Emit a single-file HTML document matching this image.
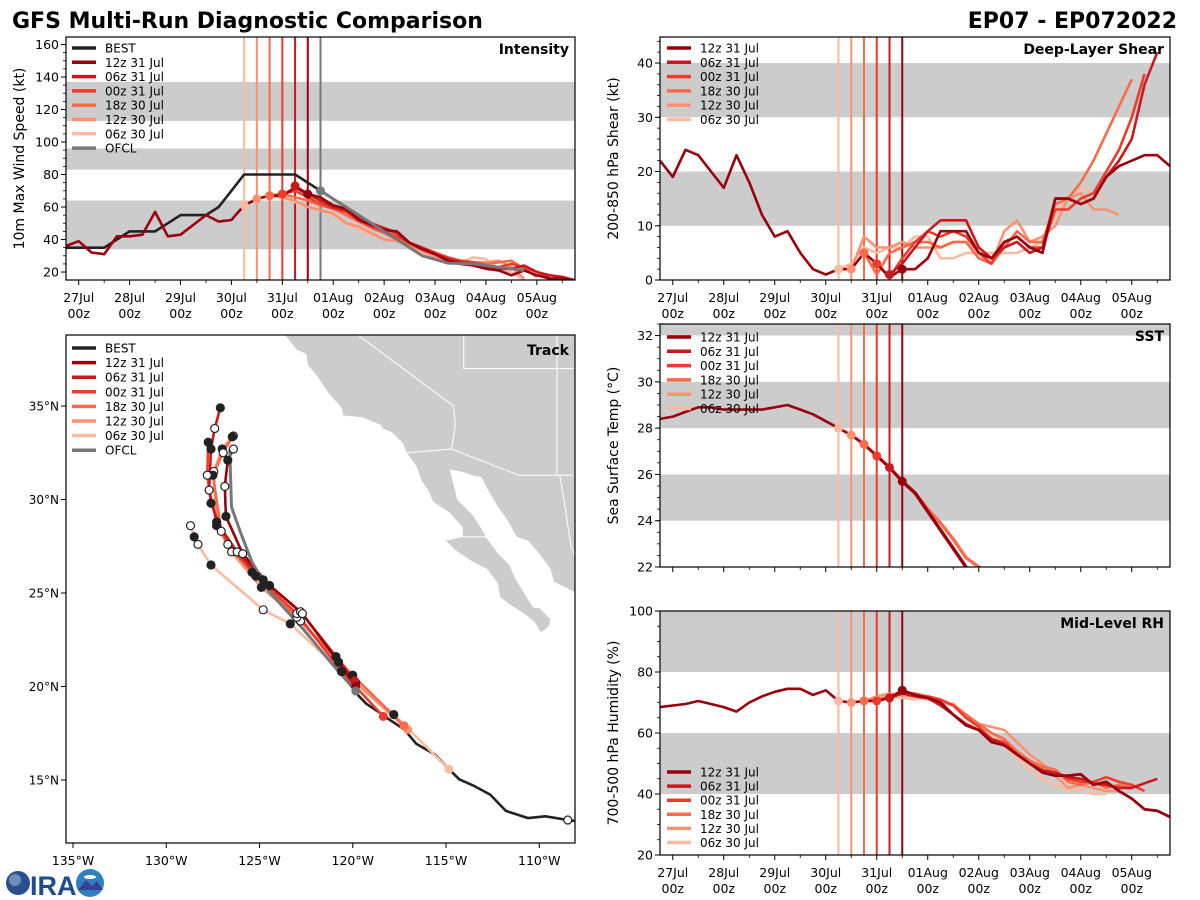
<!DOCTYPE html>
<html><head><meta charset="utf-8">
<style>
html,body{margin:0;padding:0;background:#fff;}
svg{display:block;font-family:"DejaVu Sans","Liberation Sans",sans-serif;}
</style></head>
<body>
<svg id="root" width="1200" height="900" viewBox="0 0 1200 900" xmlns="http://www.w3.org/2000/svg">
<text x="12" y="28" font-size="22" font-weight="bold">GFS Multi-Run Diagnostic Comparison</text>
<text x="1177" y="28" font-size="22" font-weight="bold" text-anchor="end">EP07 - EP072022</text>
<g>
<circle cx="18" cy="883" r="12" fill="#2a4f8f"/>
<circle cx="15" cy="880" r="6" fill="#6b8fb8"/>
<text x="30" y="895" font-size="27" font-weight="bold" fill="#1f4b8f" font-family="Liberation Sans, sans-serif">IRA</text>
<circle cx="90" cy="883" r="14" fill="#2f7fc4"/>
<path d="M78 890 L86 880 L92 886 L97 881 L103 890 Z" fill="#3b3f8f"/>
<ellipse cx="90" cy="877" rx="6" ry="2" fill="#fff"/>
</g>
</svg>
<script>
// ===== DATA =====
const dayLabels = ["27Jul","28Jul","29Jul","30Jul","31Jul","01Aug","02Aug","03Aug","04Aug","05Aug"];
const runLabels = ["12z 31 Jul","06z 31 Jul","00z 31 Jul","18z 30 Jul","12z 30 Jul","06z 30 Jul"];
const runStarts = [4.5,4.25,4.0,3.75,3.5,3.25];
const ofclStart = 4.75;
const histStart = -0.25;

const bestInt = [35,35,35,35,40,45,45,45,50,55,55,55,60,70,80,80,80,80,80,75,70];
const histInt = [36,39,32,31,42,42,43,57,42,43,49,55,51,52,61,65,67,67,72,68];
const run12z31Int = [68,66,61,59,52,49,46,45,38,34,31,27,25,24,22,21,18,21,18,16,16,15];
const run06z31Int = [73,68,64,60,58,53,50,47,44,38,35,31,28,26,25,23,22,22,24,20,18,17,15];
const run00z31Int = [68,70,66,62,59,57,52,48,45,42,38,35,32,29,27,26,24,23,25,23,20,17];
const run18z30Int = [67,68,66,64,61,59,55,51,47,44,40,37,34,31,28,27,26,25,26,27,22,17];
const run12z30Int = [65,67,66,64,60,58,56,50,48,44,40,39,36,33,29,27,27,26,26,27,23,16];
const run06z30Int = [61,65,67,66,63,60,58,55,50,46,43,40,40,37,32,28,27,26,29,28,22,20,15];
const ofclTimes = [4.75,5.25,5.75,6.25,6.75,7.25,7.75,8.25,8.75];
const ofclInt = [70,60,50,40,30,25.5,25,23,21];

const histShear = [22,19,24,23,20,17,23,18,12,8,9,5,2,1,2,2,5,3,0.5,2];
const run12z31Shear = [2,2,4,9,9,9,5,4,7,8,6,5,15,15,14,15,19,21,22,23,23,21];
const run06z31Shear = [1,3,6,9,11,11,11,6,4,6,7,5,6,15,15,14,15,19,22,26,36,42];
const run00z31Shear = [3,0.5,4,7,9,8,9,8,5,3,7,8,6,6,13,13,15,16,20,24,30,38];
const run18z30Shear = [5,1,5,6,7,7,6,7,7,4,3,6,9,7,7,14,15,18,22,27,32,37];
const run12z30Shear = [2,8,6,6,7,6,6,6,7,7,4,3,9,11,7,8,10,15,16,13,13,12];
const run06z30Shear = [2,3,6,5,6,6,8,8,4,4,5,5,5,5,5,6,7,12,15,17,16,15];

const histSst = [28.4,28.5,28.7,28.9,28.9,28.8,28.8,28.8,28.8,28.9,29.0,28.8,28.6,28.3,28.0,27.7,27.3,26.8,26.3,25.7];
const run12z31Sst = [25.7,25.2,24.4,23.6,22.8,22.0,21.2];
const run06z31Sst = [26.3,25.7,25.2,24.4,23.6,22.8,22.0,21.2];
const run00z31Sst = [26.8,26.3,25.7,25.2,24.4,23.6,22.8,22.0,21.2];
const run18z30Sst = [27.3,26.8,26.3,25.7,25.2,24.5,23.9,23.2,22.4,22.0,21.7];
const run12z30Sst = [27.7,27.3,26.8,26.3,25.7,25.2,24.5,23.9,23.2,22.4,22.0,21.7];
const run06z30Sst = [28.0,27.7,27.3,26.8,26.3,25.7,25.2,24.5,23.9,23.2,22.4,22.0,21.7];

const histRh = [68.5,69,69.5,70.5,69.5,68.5,67,70,72,73.5,74.5,74.5,72.5,74,70.5,70,70.5,70.5,71.5,74];
const run12z31Rh = [74,72.5,71.5,70,66,62.5,61,57,56,53,50,47,46,46,46.5,43,44,41,38.5,35,34.5,32.5];
const run06z31Rh = [71.5,73,72,71.5,69,66,63,61,58,56,53,50,47.5,47,45.5,45,43.5,43,42,42,43.5,45];
const run00z31Rh = [70.5,71.5,73,72,72,71,69,65,62,58,57,53,50,48,47,45,44,44,45.5,44,43,41];
const run18z30Rh = [70.5,71,72,73,73,72,71,69,66,63,60,58,54,51,49,48,44,43,44,42,43,42];
const run12z30Rh = [70,70.5,72,73,72.5,72,71,70,69.5,66,63,62,61,57,53,50,46,42,43,42,41,41];
const run06z30Rh = [70.5,70,70.5,71,72,71.5,71,72,70,69,65,62,60,56,52,48,45,43,41.5,41.5,40,40];

const bestLon = [-119.74,-119.28,-118.54,-117.99,-117.25,-116.6,-115.58,-114.84,-114.29,-113.55,-112.63,-111.79,-110.59,-109.67,-108.47,-108.0];
const bestLat = [19.56,19.08,18.59,18.2,17.72,16.94,16.36,15.58,15.04,14.71,14.22,13.35,12.96,13.06,12.86,12.8];
const ofclLon = [-119.84,-121.1,-122.6,-124.5,-125.4,-126.0,-126.5,-126.6];
const ofclLat = [19.76,21.2,23.0,25.1,26.65,28.2,29.6,32.7];
const trk12z31Lon = [-119.84,-120.76,-122.7,-124.46,-125.9,-126.8,-126.86,-126.7,-126.4];
const trk12z31Lat = [20.0,21.3,23.9,25.4,27.1,29.1,30.7,32.1,32.7];
const trk06z31Lon = [-119.9,-120.9,-122.8,-124.8,-126.2,-127.3,-127.7,-127.6,-127.4,-127.1];
const trk06z31Lat = [20.3,21.6,24.0,25.7,27.2,28.8,30.5,32.7,33.8,34.9];
const trk00z31Lon = [-118.36,-120.6,-123.0,-125.2,-126.7,-127.6,-127.8,-127.75];
const trk00z31Lat = [18.4,20.8,23.9,25.9,27.6,29.8,31.3,33.06];
const trk18z30Lon = [-117.25,-120.0,-123.0,-125.4,-127.05,-127.5,-126.95,-126.46];
const trk18z30Lat = [17.9,20.6,23.7,26.1,28.3,31.3,32.5,33.35];
const trk12z30Lon = [-117.06,-119.84,-122.8,-124.9,-126.5,-127.3,-127.45,-127.0,-126.4];
const trk12z30Lat = [17.7,20.2,23.5,25.3,27.2,28.6,31.5,32.7,33.4];
const trk06z30Lon = [-114.84,-117.8,-120.6,-123.35,-124.8,-127.6,-128.3,-128.5,-128.7];
const trk06z30Lat = [15.58,18.5,20.8,23.35,24.1,26.5,27.6,28.0,28.6];

const landLon = [-123.7,-123.0,-122.5,-122.4,-121.9,-121.3,-120.6,-120.5,-119.5,-118.5,-118.4,-117.9,-117.3,-117.1,-116.6,-116.3,-115.9,-115.7,-114.8,-114.1,-114.1,-115.0,-114.5,-113.6,-112.8,-112.2,-112.1,-111.6,-110.8,-110.3,-109.9,-109.5,-109.4,-110.0,-110.3,-110.7,-111.3,-111.6,-112.2,-112.8,-113.2,-113.6,-114.4,-114.6,-114.8,-114.2,-113.6,-113.1,-112.8,-112.2,-111.7,-111.2,-110.6,-110.0,-109.4,-109.2,-108.6,-108.0,-108.0,-123.8];
const landLat = [38.9,38.0,37.8,37.2,36.6,35.7,34.9,34.5,34.4,34.0,33.8,33.6,33.0,32.5,31.8,31.0,30.4,29.9,29.3,28.5,28.0,27.8,27.3,26.7,26.3,25.5,24.8,24.4,23.9,23.5,22.9,23.2,23.6,24.2,24.2,24.8,25.8,26.5,27.1,27.9,28.6,29.2,30.0,30.8,31.6,31.5,31.3,31.2,30.6,29.6,28.9,28.0,27.8,27.1,26.3,25.6,25.3,25.0,39.5,39.5];
</script>
<script>
const NS = "http://www.w3.org/2000/svg";
const root = document.getElementById('root');
const runColors = ["#99000d","#cb181d","#ef3b2c","#fb6a4a","#fc9272","#fcbba1"];
function mk(tag, attrs, parent){const e=document.createElementNS(NS,tag);for(const k in attrs)e.setAttribute(k,attrs[k]);(parent||root).appendChild(e);return e;}
function txt(s, attrs, parent){const e=mk('text',attrs,parent);e.textContent=s;return e;}

const panels = {
  int:{x0:66,x1:575,y0:37,y1:280,ymin:15.1,ymax:164.6,name:'intensity'},
  shr:{x0:660,x1:1170,y0:37,y1:280,ymin:0,ymax:44.8,name:'shear'},
  sst:{x0:660,x1:1170,y0:324,y1:567,ymin:22,ymax:32.5,name:'sst'},
  rh:{x0:660,x1:1170,y0:611,y1:855,ymin:20,ymax:100,name:'rh'}
};
function xT(p,t){return p.x0+(t+0.25)/10*(p.x1-p.x0);}
function yV(p,v){return p.y1-(v-p.ymin)/(p.ymax-p.ymin)*(p.y1-p.y0);}

function setupPanel(p, bands, yticks, yminor, ylabel, title, xlabels){
  const g=mk('g',{});
  
  
  const cp=mk('clipPath',{id:'clip-'+p.name},g);
  mk('rect',{x:p.x0,y:p.y0,width:p.x1-p.x0,height:p.y1-p.y0},cp);
  const plot=mk('g',{'clip-path':'url(#clip-'+p.name+')'},g);
  bands.forEach(b=>{
    const r=mk('rect',{x:p.x0,y:yV(p,b[1]),width:p.x1-p.x0,height:yV(p,b[0])-yV(p,b[1]),fill:'#cccccc'},plot);
    
    
  });
  p.plot=plot; p.g=g;
  yticks.forEach(v=>{const y=yV(p,v);mk('line',{x1:p.x0-5,x2:p.x0,y1:y,y2:y,stroke:'#000','stroke-width':1},g);
    const t=txt(String(v),{x:p.x0-7,y:y+4.5,'font-size':12.5,'text-anchor':'end'},g);
    
    });
  for(let v=Math.ceil(p.ymin/yminor)*yminor; v<=p.ymax; v+=yminor){const y=yV(p,v);mk('line',{x1:p.x0-3,x2:p.x0,y1:y,y2:y,stroke:'#000','stroke-width':0.8},g);}
  for(let i=0;i<dayLabels.length;i++){const x=xT(p,i);mk('line',{x1:x,x2:x,y1:p.y1,y2:p.y1+5,stroke:'#000','stroke-width':1},g);
    if(xlabels){
      const t1=txt(dayLabels[i],{x:x,y:p.y1+22,'font-size':12.5,'text-anchor':'middle'},g);
      
      
      txt('00z',{x:x,y:p.y1+38,'font-size':12.5,'text-anchor':'middle'},g);
    }}
  for(let t=-0.0; t<=9.75; t+=0.5){if(t%1===0)continue;const x=xT(p,t);mk('line',{x1:x,x2:x,y1:p.y1,y2:p.y1+3,stroke:'#000','stroke-width':0.8},g);}
  const yl=txt(ylabel,{x:0,y:0,'font-size':14,'text-anchor':'middle',transform:'translate('+(p.x0===66?24:618)+','+((p.y0+p.y1)/2)+') rotate(-90)'},g);
  
  
  const tt=txt(title,{x:p.x1-6,y:p.y0+17,'font-size':14,'font-weight':'bold','text-anchor':'end'},g);
  
  
}
function frame(p){mk('rect',{x:p.x0,y:p.y0,width:p.x1-p.x0,height:p.y1-p.y0,fill:'none',stroke:'#000','stroke-width':1.2},p.g);}

function series(p, t0, vals, color, name, w, dt){
  dt=dt||0.25;
  const pts=vals.map((v,i)=>xT(p,t0+i*dt).toFixed(1)+','+yV(p,v).toFixed(1)).join(' ');
  const l=mk('polyline',{points:pts,fill:'none',stroke:color,'stroke-width':w||2.6,'stroke-linejoin':'round'},p.plot);
  
  
}
function seriesT(p, ts, vals, color, name, w){
  const pts=vals.map((v,i)=>xT(p,ts[i]).toFixed(1)+','+yV(p,v).toFixed(1)).join(' ');
  const l=mk('polyline',{points:pts,fill:'none',stroke:color,'stroke-width':w||2.6,'stroke-linejoin':'round'},p.plot);
  
  
}
function dot(p,t,v,color){const c=mk('circle',{cx:xT(p,t),cy:yV(p,v),r:4.5,fill:color},p.plot);
  
  }
function vlines(p, withOfcl){
  runStarts.slice().reverse().forEach((t,i)=>{const c=runColors[5-i];const x=xT(p,t);
    const l=mk('line',{x1:x,x2:x,y1:p.y0,y2:p.y1,stroke:c,'stroke-width':2},p.plot);
    
    });
  if(withOfcl){const x=xT(p,ofclStart);const l=mk('line',{x1:x,x2:x,y1:p.y0,y2:p.y1,stroke:'#777','stroke-width':2},p.plot);
    
    }
}
function legend(g, x, y, step, entries){
  const lg=mk('g',{},g);
  
  
  entries.forEach((e,i)=>{const yy=y+i*step;
    mk('line',{x1:x,x2:x+24,y1:yy,y2:yy,stroke:e[1],'stroke-width':3.5},lg);
    const t=txt(e[0],{x:x+33,y:yy+4.5,'font-size':12},lg);
    
    });
}
const runEntries = runLabels.map((l,i)=>[l,runColors[i]]);

{const p=panels.int;
setupPanel(p,[[34,64],[83,96],[113,137]],[20,40,60,80,100,120,140,160],5,'10m Max Wind Speed (kt)','Intensity',true);
vlines(p,true);
series(p,histStart,bestInt,'#222','best-intensity-line');
const runs=[run12z31Int,run06z31Int,run00z31Int,run18z30Int,run12z30Int,run06z30Int];
for(let i=5;i>=0;i--){series(p,runStarts[i],runs[i],runColors[i],'run-intensity-line');}
series(p,histStart,histInt,runColors[0],'gfs-history-intensity-line');
seriesT(p,ofclTimes,ofclInt,'#777','ofcl-intensity-line',3);
for(let i=5;i>=0;i--)dot(p,runStarts[i],runs[i][0],runColors[i]);
dot(p,ofclTimes[0],ofclInt[0],'#777');
frame(p);
legend(p.g,72,48,14.3,[['BEST','#222']].concat(runEntries,[['OFCL','#777']]));}

{const p=panels.shr;
setupPanel(p,[[10,20],[30,40]],[0,10,20,30,40],2,'200-850 hPa Shear (kt)','Deep-Layer Shear',true);
vlines(p,false);
const runs=[run12z31Shear,run06z31Shear,run00z31Shear,run18z30Shear,run12z30Shear,run06z30Shear];
for(let i=5;i>=0;i--){series(p,runStarts[i],runs[i],runColors[i],'run-shear-line');}
series(p,histStart,histShear,runColors[0],'gfs-history-shear-line');
for(let i=5;i>=0;i--)dot(p,runStarts[i],runs[i][0],runColors[i]);
frame(p);
legend(p.g,667,48,14.3,runEntries);}

{const p=panels.sst;
setupPanel(p,[[24,26],[28,30],[32,34]],[22,24,26,28,30,32],0.5,'Sea Surface Temp (°C)','SST',false);
vlines(p,false);
const runs=[run12z31Sst,run06z31Sst,run00z31Sst,run18z30Sst,run12z30Sst,run06z30Sst];
for(let i=5;i>=0;i--){series(p,runStarts[i],runs[i],runColors[i],'run-sst-line',3.2);}
series(p,histStart,histSst,runColors[0],'gfs-history-sst-line');
series(p,runStarts[0],run12z31Sst,runColors[0],'run-sst-line',3.2);
for(let i=5;i>=0;i--)dot(p,runStarts[i],runs[i][0],runColors[i]);
frame(p);
legend(p.g,667,337,14.3,runEntries);}

{const p=panels.rh;
setupPanel(p,[[40,60],[80,100]],[20,40,60,80,100],5,'700-500 hPa Humidity (%)','Mid-Level RH',true);
vlines(p,false);
const runs=[run12z31Rh,run06z31Rh,run00z31Rh,run18z30Rh,run12z30Rh,run06z30Rh];
for(let i=5;i>=0;i--){series(p,runStarts[i],runs[i],runColors[i],'run-rh-line');}
series(p,histStart,histRh,runColors[0],'gfs-history-rh-line');
series(p,runStarts[0],run12z31Rh,runColors[0],'run-rh-line');
for(let i=5;i>=0;i--)dot(p,runStarts[i],runs[i][0],runColors[i]);
frame(p);
legend(p.g,667,772,14.1,runEntries);}

{const T={x0:66,x1:575,y0:335,y1:843};
function lx(lon){return 73+(lon+135)*18.65;}
function ly(lat){return 780-(lat-15)*18.7;}
const g=mk('g',{});


const cp=mk('clipPath',{id:'clip-trk'},g);
mk('rect',{x:T.x0,y:T.y0,width:T.x1-T.x0,height:T.y1-T.y0},cp);
const plot=mk('g',{'clip-path':'url(#clip-trk)'},g);
const land=mk('polygon',{points:landLon.map((l,i)=>lx(l).toFixed(1)+','+ly(landLat[i]).toFixed(1)).join(' '),fill:'#cccccc'},plot);


const borders=[[[-120,39.5],[-120,39],[-114.6,35.0],[-114.5,34.0],[-114.7,32.7]],[[-117.1,32.5],[-114.7,32.7],[-111.1,31.3],[-108.2,31.3]],[[-114.05,39.5],[-114.05,37],[-108,37]],[[-109.05,39.5],[-109.05,31.3]],[[-114.1,28],[-112.8,28]],[[-108.9,31.3],[-108.6,29.5],[-108.3,27.5],[-108.0,26.8]]];
borders.forEach(b=>{const l=mk('polyline',{points:b.map(q=>lx(q[0])+','+ly(q[1])).join(' '),fill:'none',stroke:'#fff','stroke-width':1},plot);
  
  });
function trk(lons,lats,color,name,w){const l=mk('polyline',{points:lons.map((o,i)=>lx(o).toFixed(1)+','+ly(lats[i]).toFixed(1)).join(' '),fill:'none',stroke:color,'stroke-width':w||2.6,'stroke-linejoin':'round'},plot);
  
  }
function marks(lons,lats){for(let i=1;i<lons.length;i++){const c=mk('circle',{cx:lx(lons[i]),cy:ly(lats[i]),r:4,fill:i%2?'#222':'#fff',stroke:'#222','stroke-width':1.2},plot);
  
  }}
trk(bestLon,bestLat,'#222','best-track-line');
const tl=[[trk12z31Lon,trk12z31Lat],[trk06z31Lon,trk06z31Lat],[trk00z31Lon,trk00z31Lat],[trk18z30Lon,trk18z30Lat],[trk12z30Lon,trk12z30Lat],[trk06z30Lon,trk06z30Lat]];
for(let i=5;i>=0;i--)trk(tl[i][0],tl[i][1],runColors[i],'run-track-line');
trk(ofclLon,ofclLat,'#777','ofcl-track-line',3);
for(let i=5;i>=0;i--){marks(tl[i][0],tl[i][1]);mk('circle',{cx:lx(tl[i][0][0]),cy:ly(tl[i][1][0]),r:4.5,fill:runColors[i]},plot);}
mk('circle',{cx:lx(bestLon[14]),cy:ly(bestLat[14]),r:4,fill:'#fff',stroke:'#222','stroke-width':1.2},plot);
mk('circle',{cx:lx(ofclLon[0]),cy:ly(ofclLat[0]),r:4.5,fill:'#777'},plot);
mk('rect',{x:T.x0,y:T.y0,width:T.x1-T.x0,height:T.y1-T.y0,fill:'none',stroke:'#000','stroke-width':1.2},g);
[-135,-130,-125,-120,-115,-110].forEach(l=>{const x=lx(l);mk('line',{x1:x,x2:x,y1:T.y1,y2:T.y1+5,stroke:'#000'},g);
  const t=txt((-l)+'°W',{x:x,y:T.y1+22,'font-size':12.5,'text-anchor':'middle'},g);
  
  });
[15,20,25,30,35].forEach(l=>{const y=ly(l);mk('line',{x1:T.x0-5,x2:T.x0,y1:y,y2:y,stroke:'#000'},g);
  const t=txt(l+'°N',{x:T.x0-7,y:y+4.5,'font-size':12,'text-anchor':'end'},g);
  
  });
const tt=txt('Track',{x:T.x1-6,y:T.y0+20,'font-size':14,'font-weight':'bold','text-anchor':'end'},g);


legend(g,72,348,14.6,[['BEST','#222']].concat(runEntries,[['OFCL','#777']]));}
</script>
</body></html>
